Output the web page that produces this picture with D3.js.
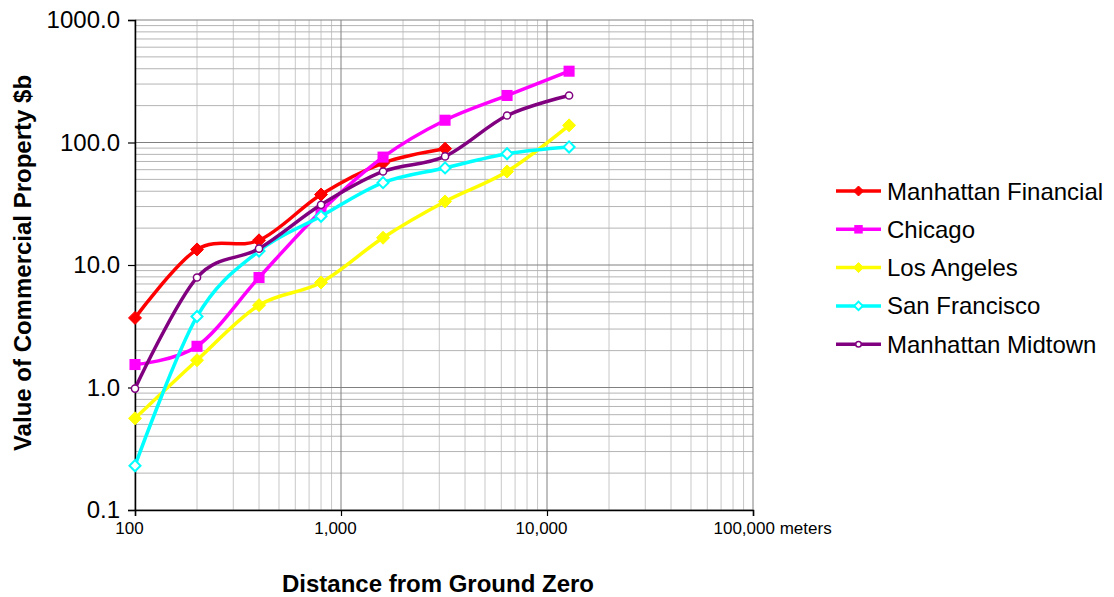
<!DOCTYPE html>
<html>
<head>
<meta charset="utf-8">
<script src="https://cdn.jsdelivr.net/npm/d3@7"></script>
<style>
  body { margin: 0; background: #fff; }
  text { font-family: Arial, "Liberation Sans", sans-serif; fill: #000; }
</style>
</head>
<body>
<div id="vis"></div>
<script>
const width = 1114;
const height = 597;

// distances in meters
const distances = [100, 200, 400, 800, 1600, 3200, 6400, 12800];

// value of commercial property, $b
const financial = [3.7, 13.4, 15.9, 37.6, 68, 89];
const chicago = [1.54, 2.17, 7.9, 27.5, 76, 152, 242, 382];
const losAngeles = [0.56, 1.67, 4.7, 7.2, 16.7, 33, 58, 138];
const sanFrancisco = [0.23, 3.8, 13, 25, 47, 62, 81, 92];
const midtown = [0.98, 7.9, 13.6, 31, 58, 77, 166, 242];

const seriesNames = ['Manhattan Financial', 'Chicago', 'Los Angeles', 'San Francisco', 'Manhattan Midtown'];
const seriesValues = [financial, chicago, losAngeles, sanFrancisco, midtown];
const seriesColors = ['#ff0000', '#ff00ff', '#ffff00', '#00ffff', '#800080'];
const seriesMarkers = ['diamond', 'square', 'diamond', 'openDiamond', 'circle'];

const xTicks = [100, 1000, 10000, 100000];
const xTickLabels = ['100', '1,000', '10,000', '100,000 meters'];
const yTicks = [0.1, 1, 10, 100, 1000];

const plotLeft = 135, plotRight = 753, plotTop = 20, plotBottom = 510;

const x = d3.scaleLog().domain([100, 100000]).range([plotLeft, plotRight]);
const y = d3.scaleLog().domain([0.1, 1000]).range([plotBottom, plotTop]);

const svg = d3.select('#vis')
    .append('svg')
    .attr('width', width)
    .attr('height', height);

// minor + major grid
const minorX = [], minorY = [];
for (let d = 100; d < 100000; d *= 10) for (let k = 2; k <= 9; k++) minorX.push(d * k);
for (let d = 0.1; d < 999; d *= 10) for (let k = 2; k <= 9; k++) minorY.push(d * k);

svg.append('g').selectAll('line')
    .data(minorX)
    .join('line')
    .attr('x1', d => x(d)).attr('x2', d => x(d))
    .attr('y1', plotTop).attr('y2', plotBottom)
    .style('stroke', '#c8c8c8');

svg.append('g').selectAll('line')
    .data(minorY)
    .join('line')
    .attr('x1', plotLeft).attr('x2', plotRight)
    .attr('y1', d => y(d)).attr('y2', d => y(d))
    .style('stroke', '#b4b4b4');

svg.append('g').selectAll('line')
    .data(xTicks)
    .join('line')
    .attr('x1', d => x(d)).attr('x2', d => x(d))
    .attr('y1', plotTop).attr('y2', plotBottom)
    .style('stroke', '#808080');

svg.append('g').selectAll('line')
    .data(yTicks)
    .join('line')
    .attr('x1', plotLeft).attr('x2', plotRight)
    .attr('y1', d => y(d)).attr('y2', d => y(d))
    .style('stroke', '#808080');

// axes
const xAxis = svg.append('g')
    .attr('transform', `translate(0,${plotBottom})`)
    .call(d3.axisBottom(x).tickValues(xTicks).tickSize(6).tickPadding(6)
        .tickFormat((d, i) => xTickLabels[i]));
const yAxis = svg.append('g')
    .attr('transform', `translate(${plotLeft},0)`)
    .call(d3.axisLeft(y).tickValues(yTicks).tickSize(7).tickPadding(8)
        .tickFormat(d3.format('.1f')));

[xAxis, yAxis].forEach(g => {
    g.select('.domain').style('stroke', '#000').style('stroke-width', 1.5);
    g.selectAll('.tick line').style('stroke', '#000').style('stroke-width', 1.2);
    g.selectAll('text').style('font-family', 'Arial, "Liberation Sans", sans-serif').style('fill', '#000');
});
xAxis.selectAll('text').style('font-size', '17px').attr('dx', -6);
// the last label runs on to the right, as in the original
xAxis.selectAll('.tick text').filter(d => d === 100000)
    .attr('text-anchor', 'start')
    .attr('dx', -40);
yAxis.selectAll('text').style('font-size', '24px');

// lines
const line = d3.line()
    .x(d => x(d[0]))
    .y(d => y(d[1]))
    .curve(d3.curveCardinal.tension(0));

function drawMarker(g, type, color, cx, cy, s) {
    if (type === 'diamond') {
        g.append('path')
            .attr('d', `M${cx},${cy - s}L${cx + s},${cy}L${cx},${cy + s}L${cx - s},${cy}Z`)
            .style('fill', color).style('stroke', color);
    } else if (type === 'openDiamond') {
        const t = s * 0.85;
        g.append('path')
            .attr('d', `M${cx},${cy - t}L${cx + t},${cy}L${cx},${cy + t}L${cx - t},${cy}Z`)
            .style('fill', '#fff').style('stroke', color).style('stroke-width', 2);
    } else if (type === 'square') {
        const t = s * 0.85;
        g.append('rect')
            .attr('x', cx - t).attr('y', cy - t)
            .attr('width', t * 2).attr('height', t * 2)
            .style('fill', color);
    } else {
        g.append('circle')
            .attr('cx', cx).attr('cy', cy).attr('r', s * 0.55)
            .style('fill', '#fff').style('stroke', color).style('stroke-width', 1.5);
    }
}

seriesValues.forEach((vals, i) => {
    const pts = vals.map((v, j) => [distances[j], v]);
    const g = svg.append('g');
    g.append('path')
        .datum(pts)
        .attr('d', line)
        .style('fill', 'none')
        .style('stroke', seriesColors[i])
        .style('stroke-width', 3.5);
    pts.forEach(p => drawMarker(g, seriesMarkers[i], seriesColors[i], x(p[0]), y(p[1]), 6.5));
});

// legend
const legend = svg.append('g');
seriesNames.forEach((name, i) => {
    const ly = 191 + i * 38.3;
    legend.append('line')
        .attr('x1', 836).attr('x2', 881)
        .attr('y1', ly).attr('y2', ly)
        .style('stroke', seriesColors[i])
        .style('stroke-width', 3.5);
    drawMarker(legend, seriesMarkers[i], seriesColors[i], 858.5, ly, 5);
    legend.append('text')
        .attr('x', 887)
        .attr('y', ly + 8.5)
        .style('font-size', '24px')
        .text(name);
});

// axis titles
svg.append('text')
    .attr('transform', 'translate(31,263) rotate(-90)')
    .attr('text-anchor', 'middle')
    .style('font-size', '24px')
    .style('font-weight', 'bold')
    .text('Value of Commercial Property $b');

svg.append('text')
    .attr('x', 438)
    .attr('y', 592)
    .attr('text-anchor', 'middle')
    .style('font-size', '24px')
    .style('font-weight', 'bold')
    .text('Distance from Ground Zero');
</script>
</body>
</html>
